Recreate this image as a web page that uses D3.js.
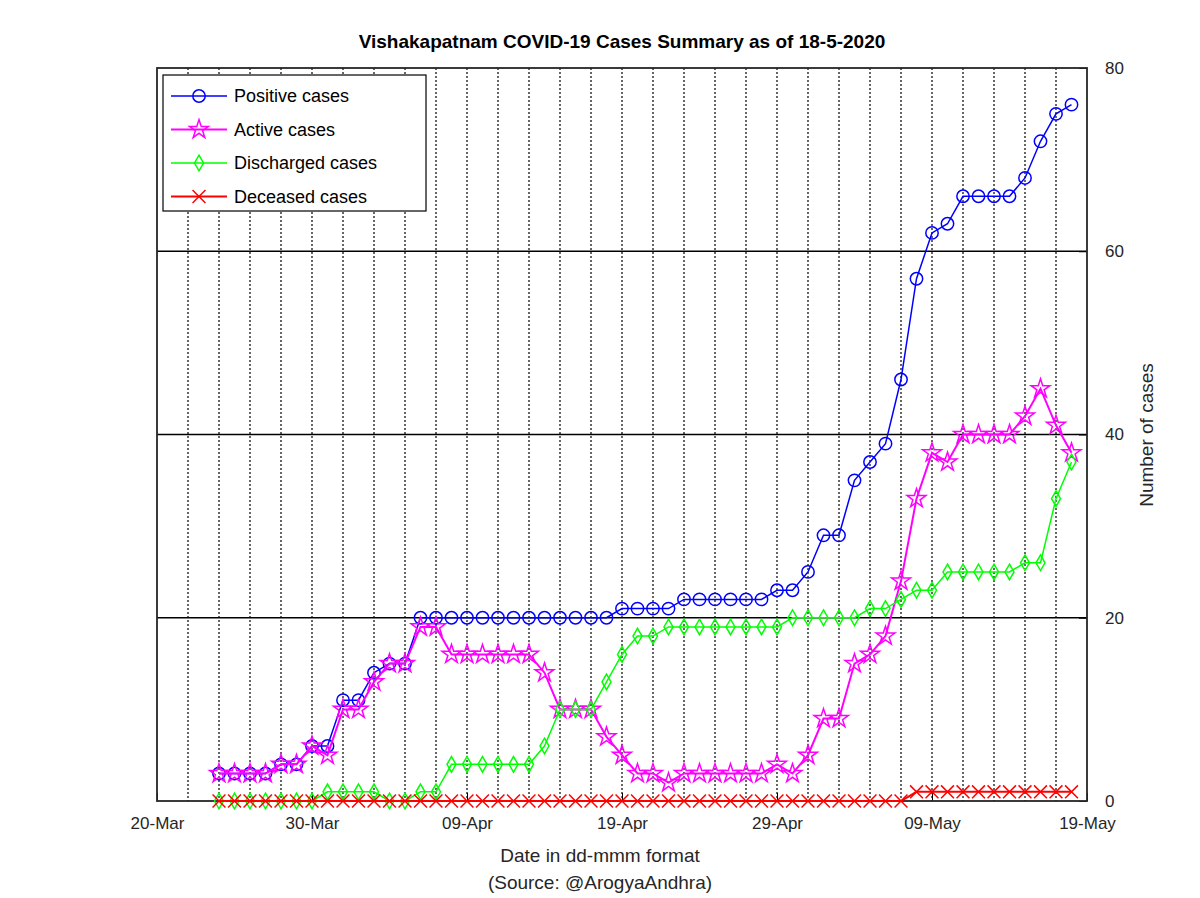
<!DOCTYPE html>
<html>
<head>
<meta charset="utf-8">
<script src="https://cdn.jsdelivr.net/npm/d3@7"></script>
<style>
	body { margin: 0; background: #fff; }
	text { font-family: "Liberation Sans", Arial, sans-serif; }
</style>
</head>
<body>
<svg id="svg"></svg>
<script>
	// one value per day, 24-Mar .. 18-May 2020
	var startDate = '2020-03-24';
	var positive = [3, 3, 3, 3, 4, 4, 6, 6, 11, 11, 14, 15, 15, 20, 20, 20, 20, 20, 20, 20, 20, 20, 20, 20, 20, 20,
		21, 21, 21, 21, 22, 22, 22, 22, 22, 22, 23, 23, 25, 29, 29, 35, 37, 39, 46, 57, 62, 63, 66, 66, 66, 66, 68, 72, 75, 76];
	var active = [3, 3, 3, 3, 4, 4, 6, 5, 10, 10, 13, 15, 15, 19, 19, 16, 16, 16, 16, 16, 16, 14, 10, 10, 10, 7,
		5, 3, 3, 2, 3, 3, 3, 3, 3, 3, 4, 3, 5, 9, 9, 15, 16, 18, 24, 33, 38, 37, 40, 40, 40, 40, 42, 45, 41, 38];
	var discharged = [0, 0, 0, 0, 0, 0, 0, 1, 1, 1, 1, 0, 0, 1, 1, 4, 4, 4, 4, 4, 4, 6, 10, 10, 10, 13,
		16, 18, 18, 19, 19, 19, 19, 19, 19, 19, 19, 20, 20, 20, 20, 20, 21, 21, 22, 23, 23, 25, 25, 25, 25, 25, 26, 26, 33, 37];
	var deceased = [0, 0, 0, 0, 0, 0, 0, 0, 0, 0, 0, 0, 0, 0, 0, 0, 0, 0, 0, 0, 0, 0, 0, 0, 0, 0,
		0, 0, 0, 0, 0, 0, 0, 0, 0, 0, 0, 0, 0, 0, 0, 0, 0, 0, 0, 1, 1, 1, 1, 1, 1, 1, 1, 1, 1, 1];
	var xTickLabels = ['20-Mar', '30-Mar', '09-Apr', '19-Apr', '29-Apr', '09-May', '19-May'];
	var yTicks = [0, 20, 40, 60, 80];

	var W = 1200, H = 898;
	var margin = {top: 68, right: 113, bottom: 97, left: 157};
	var width = W - margin.left - margin.right,
		height = H - margin.top - margin.bottom;

	var svg = d3.select('#svg').attr('width', W).attr('height', H);
	var g = svg.append('g').attr('transform', 'translate(' + margin.left + ',' + margin.top + ')');

	var t0 = new Date(startDate + 'T00:00:00');
	var dates = positive.map(function (d, i) { return d3.timeDay.offset(t0, i); });
	var x = d3.scaleTime()
		.domain([new Date('2020-03-20T00:00:00'), new Date('2020-05-19T00:00:00')])
		.range([0, width]);
	var y = d3.scaleLinear().domain([0, 80]).range([height, 0]);
	var tickDates = d3.timeDay.every(10).range ? d3.range(7).map(function (i) {
		return d3.timeDay.offset(x.domain()[0], i * 10);
	}) : [];

	// dotted vertical grid every 2 days
	var minor = d3.range(1, 30).map(function (k) { return d3.timeDay.offset(x.domain()[0], k * 2); });
	g.selectAll('.vgrid').data(minor).enter().append('line')
		.attr('x1', function (d) { return x(d); }).attr('x2', function (d) { return x(d); })
		.attr('y1', 0).attr('y2', height)
		.attr('stroke', '#000').attr('stroke-width', 1.2).attr('stroke-dasharray', '2,2');
	// solid horizontal grid
	g.selectAll('.hgrid').data(yTicks.slice(1, 4)).enter().append('line')
		.attr('x1', 0).attr('x2', width)
		.attr('y1', function (d) { return y(d); }).attr('y2', function (d) { return y(d); })
		.attr('stroke', '#000').attr('stroke-width', 1.5);

	var xAxis = g.append('g').attr('transform', 'translate(0,' + height + ')')
		.call(d3.axisBottom(x).tickValues(tickDates).tickSize(-8).tickPadding(16)
			.tickFormat(function (d, i) { return xTickLabels[i]; }));
	var yAxis = g.append('g').attr('transform', 'translate(' + width + ',0)')
		.call(d3.axisRight(y).tickValues(yTicks).tickSize(-8).tickPadding(18));
	[xAxis, yAxis].forEach(function (a) {
		a.attr('font-size', null).attr('font-family', null);
		a.select('.domain').remove();
		a.selectAll('text').style('font-size', '17px').attr('fill', '#262626');
		a.selectAll('line').attr('stroke', '#000');
	});
	g.append('rect').attr('width', width).attr('height', height)
		.attr('fill', 'none').attr('stroke', '#262626').attr('stroke-width', 1.8);

	var symX = d3.symbolTimes || d3.symbolX;
	var series = [
		{name: 'Positive cases', values: positive, color: '#0000ff', sym: d3.symbolCircle, size: 120, lw: 1.5},
		{name: 'Active cases', values: active, color: '#ff00ff', sym: d3.symbolStar, size: 110, lw: 2},
		{name: 'Discharged cases', values: discharged, color: '#00ff00', sym: d3.symbolDiamond, size: 70, lw: 1.5},
		{name: 'Deceased cases', values: deceased, color: '#ff0000', sym: symX, size: 110, lw: 2}
	];

	var line = d3.line()
		.x(function (d, i) { return x(dates[i]); })
		.y(function (d) { return y(d); });

	series.forEach(function (s) {
		g.append('path').datum(s.values)
			.attr('fill', 'none').attr('stroke', s.color).attr('stroke-width', s.lw).attr('d', line);
		g.selectAll(null).data(s.values).enter().append('path')
			.attr('transform', function (d, i) { return 'translate(' + x(dates[i]) + ',' + y(d) + ')'; })
			.attr('d', d3.symbol().type(s.sym).size(s.size))
			.attr('fill', 'none').attr('stroke', s.color).attr('stroke-width', 1.5);
	});

	// legend
	var lg = g.append('g').attr('transform', 'translate(6,7)');
	lg.append('rect').attr('width', 263).attr('height', 136)
		.attr('fill', '#fff').attr('stroke', '#000').attr('stroke-width', 1.2);
	series.forEach(function (s, i) {
		var yy = 21 + i * 33.5;
		lg.append('line').attr('x1', 8).attr('x2', 64).attr('y1', yy).attr('y2', yy)
			.attr('stroke', s.color).attr('stroke-width', s.lw);
		lg.append('path').attr('transform', 'translate(36,' + yy + ')')
			.attr('d', d3.symbol().type(s.sym).size(s.size))
			.attr('fill', 'none').attr('stroke', s.color).attr('stroke-width', 1.5);
		lg.append('text').attr('x', 71).attr('y', yy + 6).attr('font-size', 18).text(s.name);
	});

	svg.append('text').attr('x', 622).attr('y', 48).attr('text-anchor', 'middle')
		.attr('font-size', 19).attr('font-weight', 'bold').text('Vishakapatnam COVID-19 Cases Summary as of 18-5-2020');
	svg.append('text').attr('x', 600).attr('y', 862).attr('text-anchor', 'middle')
		.attr('font-size', 19).attr('fill', '#262626').text('Date in dd-mmm format');
	svg.append('text').attr('x', 600).attr('y', 889).attr('text-anchor', 'middle')
		.attr('font-size', 19).attr('fill', '#262626').text('(Source: @ArogyaAndhra)');
	svg.append('text').attr('transform', 'translate(1153,435) rotate(-90)').attr('text-anchor', 'middle')
		.attr('font-size', 19).attr('fill', '#262626').text('Number of cases');
</script>
</body>
</html>
